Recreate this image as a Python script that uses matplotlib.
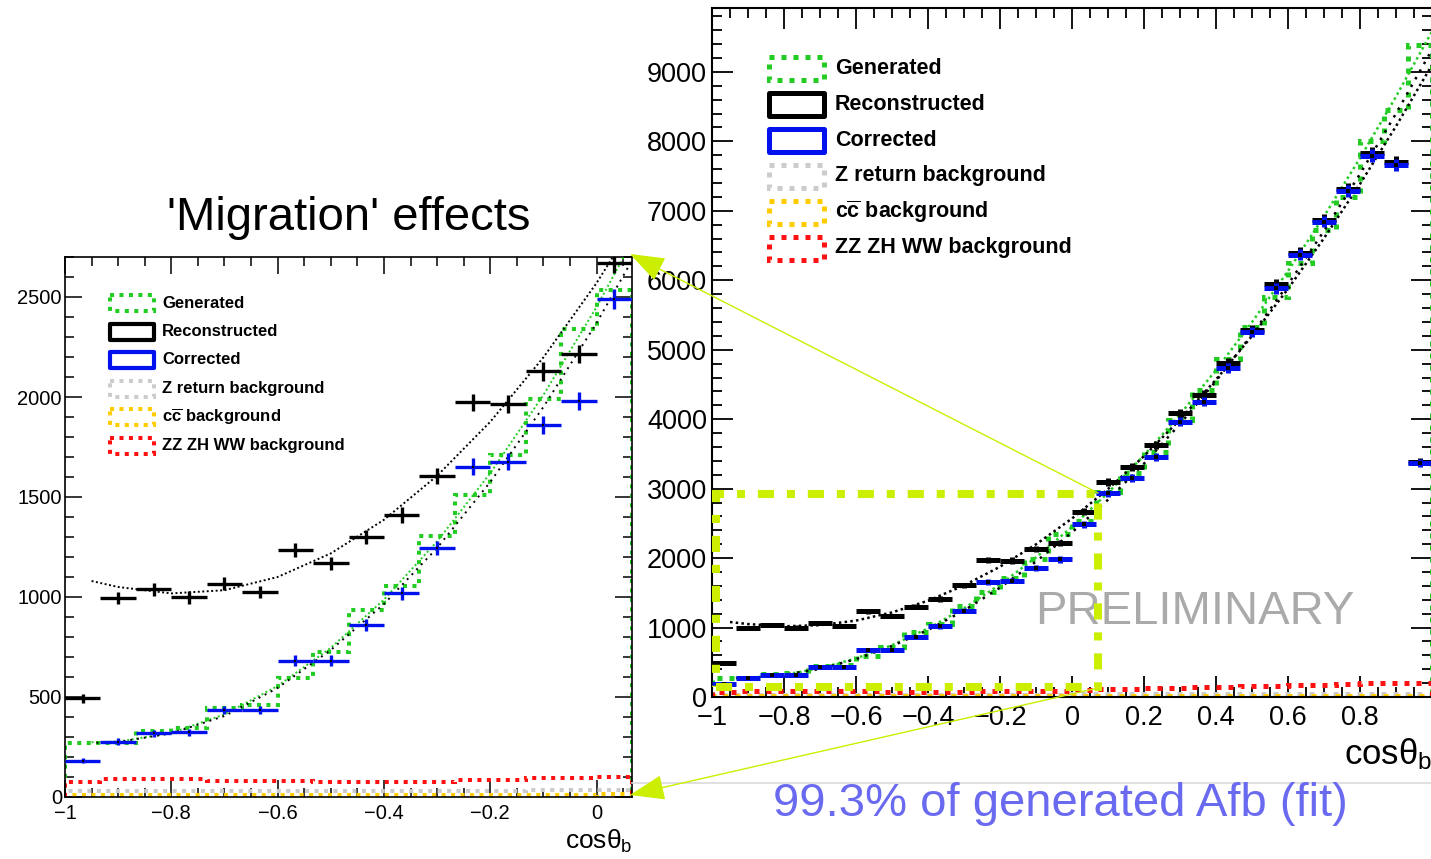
import numpy as np
import matplotlib
matplotlib.use("Agg")
import matplotlib.pyplot as plt
from matplotlib.patches import Rectangle
from matplotlib.ticker import FixedLocator, FixedFormatter, MultipleLocator

plt.rcParams['font.family'] = ['Liberation Sans', 'DejaVu Sans']
plt.rcParams['mathtext.fontset'] = 'custom'
plt.rcParams['mathtext.rm'] = 'Liberation Sans'
plt.rcParams['mathtext.bf'] = 'Liberation Sans:bold'
plt.rcParams['mathtext.it'] = 'Liberation Sans:italic'

W, H = 1431, 859

# ---- data: 30 bins of cos(theta_b) in [-1, 1] ----
n_bins = 30
generated = [272, 270, 330, 345, 445, 460, 595, 725, 935, 1055, 1305, 1510, 1710, 1990, 2340,
             2535, 2950, 3230, 3530, 3990, 4420, 4870, 5330, 5760, 6250, 6730, 7200, 8000, 8450, 9390]
reconstructed = [493, 995, 1038, 998, 1066, 1025, 1235, 1168, 1300, 1410, 1606, 1973, 1965, 2128, 2215,
                 2670, 3100, 3307, 3629, 4085, 4349, 4805, 5285, 5940, 6394, 6869, 7311, 7829, 7700, 3389]
corrected = [182, 277, 318, 323, 435, 435, 682, 682, 860, 1018, 1243, 1652, 1677, 1860, 1980,
             2490, 2933, 3149, 3461, 3965, 4253, 4733, 5252, 5885, 6365, 6845, 7291, 7795, 7661, 3364]
zreturn_bkg = [28, 30, 30, 28, 30, 28, 30, 30, 28, 30, 30, 32, 32, 34, 34,
               36, 38, 40, 40, 42, 42, 44, 44, 46, 46, 48, 48, 50, 50, 48]
cc_bkg = [8, 9, 9, 10, 10, 10, 10, 11, 11, 11, 11, 12, 12, 12, 12,
          13, 13, 13, 14, 14, 14, 14, 15, 15, 15, 15, 16, 16, 16, 15]
zzzhww_bkg = [73, 88, 88, 88, 82, 82, 82, 77, 73, 73, 75, 85, 85, 93, 93,
              102, 118, 122, 128, 132, 140, 148, 155, 160, 168, 178, 188, 196, 205, 195]

# fitted forward-backward shapes, sampled along cos(theta_b)
fit_x = [-0.95, -0.9, -0.8, -0.7, -0.6, -0.5, -0.4, -0.3, -0.2, -0.1, 0.0,
         0.1, 0.2, 0.3, 0.4, 0.5, 0.6, 0.7, 0.8, 0.9, 1.0]
reco_fit = [1080, 1050, 1018, 1034, 1100, 1218, 1386, 1606, 1876, 2198, 2570,
            2994, 3468, 3994, 4570, 5198, 5876, 6606, 7386, 8218, 9100]
gen_fit = [274, 277, 320, 413, 555, 746, 987, 1278, 1619, 2010, 2450,
           2940, 3479, 4068, 4707, 5396, 6133, 6921, 7758, 8645, 9582]
corr_fit = [270, 275, 318, 405, 545, 735, 965, 1245, 1575, 1950, 2370,
            2840, 3360, 3930, 4550, 5220, 5940, 6710, 7530, 8400, 9320]

legend_labels = ['Generated', 'Reconstructed', 'Corrected', 'Z return background',
                 r'c$\overline{\mathbf{c}}$ background', 'ZZ ZH WW background']

left_xticks = [-1.0, -0.8, -0.6, -0.4, -0.2, 0.0]
left_xticklabels = ['\u22121', '\u22120.8', '\u22120.6', '\u22120.4', '\u22120.2', '0']
left_yticks = [0, 500, 1000, 1500, 2000, 2500]
right_xticks = [-1.0, -0.8, -0.6, -0.4, -0.2, 0.0, 0.2, 0.4, 0.6, 0.8, 1.0]
right_xticklabels = ['\u22121', '\u22120.8', '\u22120.6', '\u22120.4', '\u22120.2', '0',
                     '0.2', '0.4', '0.6', '0.8', '']
right_yticks = [0, 1000, 2000, 3000, 4000, 5000, 6000, 7000, 8000, 9000]

GREEN = '#22cc22'
BLUE = '#0011ee'
RED = '#ff1111'
ORANGE = '#ffcc00'
GRAY = '#cccccc'
LIME = '#ccee00'

bin_edges = np.linspace(-1.0, 1.0, n_bins + 1)

fig = plt.figure(figsize=(W / 100, H / 100), dpi=100)
fig.patch.set_facecolor('white')


def px_axes(x0, y0, x1, y1):
    """Axes rectangle given by pixel corners (top-left origin)."""
    return fig.add_axes([x0 / W, 1 - y1 / H, (x1 - x0) / W, (y1 - y0) / H])


def draw_panel(ax, nb, lw_hist, dot, lw_err, lw_fit, ms):
    edges = bin_edges[:nb + 1]
    centers = 0.5 * (edges[:-1] + edges[1:])
    half = 0.5 * (edges[1] - edges[0])
    dotted = (0, dot)
    ax.stairs(generated[:nb], edges, baseline=0, color=GREEN, lw=lw_hist, linestyle=dotted, zorder=2)
    ax.stairs(zreturn_bkg[:nb], edges, baseline=0, color=GRAY, lw=lw_hist, linestyle=dotted, zorder=2)
    ax.stairs(cc_bkg[:nb], edges, baseline=0, color=ORANGE, lw=lw_hist, linestyle=dotted, zorder=2.1)
    ax.stairs(zzzhww_bkg[:nb], edges, baseline=0, color=RED, lw=lw_hist, linestyle=dotted, zorder=2.2)
    fit_style = (0, (1.0, 1.3))
    ax.plot(fit_x, gen_fit, color=GREEN, lw=lw_fit, linestyle=fit_style, zorder=3)
    ax.plot(fit_x, corr_fit, color='black', lw=lw_fit, linestyle=(1, (1.0, 2.5)), zorder=3)
    ax.plot(fit_x, reco_fit, color='black', lw=lw_fit, linestyle=fit_style, zorder=3)
    reco = np.array(reconstructed[:nb], dtype=float)
    corr = np.array(corrected[:nb], dtype=float)
    ax.errorbar(centers, reco, xerr=half, yerr=np.sqrt(reco), fmt='none', ecolor='black',
                elinewidth=lw_err, capsize=0, zorder=4)
    ax.errorbar(centers, corr, xerr=half, yerr=np.sqrt(corr), fmt='none', ecolor=BLUE,
                elinewidth=lw_err, capsize=0, zorder=5)
    ax.plot(centers, reco, 's', ms=ms, color='black', zorder=4.5, mew=0)
    ax.plot(centers, corr, 's', ms=ms, color='black', zorder=5.5, mew=0)


def style_axes(ax, lw, major, minor, width, labelsize, xpad, ypad):
    for sp in ax.spines.values():
        sp.set_linewidth(lw)
    ax.tick_params(which='both', direction='in', top=True, right=True, width=width,
                   labelsize=labelsize, colors='black')
    ax.tick_params(which='major', length=major)
    ax.tick_params(which='minor', length=minor)
    ax.tick_params(axis='x', pad=xpad)
    ax.tick_params(axis='y', pad=ypad)


AXIS_TITLE = 'cos\u03b8$_\\mathrm{b}$'

# ---- left panel: zoom on the backward region ----
ax_l = px_axes(65, 257, 632, 797)
draw_panel(ax_l, 16, lw_hist=2.9, dot=(1.0, 1.35), lw_err=2.4, lw_fit=1.4, ms=2.0)
ax_l.set_xlim(-1.0, bin_edges[16])
ax_l.set_ylim(0, 2700)
ax_l.xaxis.set_major_locator(FixedLocator(left_xticks))
ax_l.xaxis.set_major_formatter(FixedFormatter(left_xticklabels))
ax_l.xaxis.set_minor_locator(MultipleLocator(0.05))
ax_l.yaxis.set_major_locator(FixedLocator(left_yticks))
ax_l.yaxis.set_minor_locator(MultipleLocator(100))
style_axes(ax_l, 1.2, 12, 6.5, 1.1, 14.5, 5, 2.2)
ax_l.text(1.0, -0.083, AXIS_TITLE, transform=ax_l.transAxes, ha='right',
          va='center', fontsize=19)

# ---- right panel: full range ----
ax_r = px_axes(712, 8, 1432, 697)
draw_panel(ax_r, 30, lw_hist=3.6, dot=(1.0, 1.4), lw_err=3.6, lw_fit=1.8, ms=2.5)
ax_r.set_xlim(-1.0, 1.0)
ax_r.set_ylim(0, 9920)
ax_r.xaxis.set_major_locator(FixedLocator(right_xticks))
ax_r.xaxis.set_major_formatter(FixedFormatter(right_xticklabels))
ax_r.xaxis.set_minor_locator(MultipleLocator(0.05))
ax_r.yaxis.set_major_locator(FixedLocator(right_yticks))
ax_r.yaxis.set_minor_locator(MultipleLocator(200))
style_axes(ax_r, 1.5, 15, 7, 1.3, 19.5, 6, 3.6)
ax_r.text(1.0, -0.083, AXIS_TITLE, transform=ax_r.transAxes, ha='right',
          va='center', fontsize=25)

# zoom window marker
ax_r.add_patch(Rectangle((-0.99, 148), 1.062, 2918 - 148, fill=False, edgecolor=LIME, lw=5.8,
                         linestyle=(0, (2.0, 1.6, 1.0, 1.6)), zorder=6, clip_on=False))
ax_r.text(1195 / W, 1 - 612 / H, 'PRELIMINARY', transform=fig.transFigure, ha='center',
          va='center', fontsize=34, color='#aaaaaa', zorder=1)

# ---- overlay in pixel coordinates ----
ov = fig.add_axes([0, 0, 1, 1], zorder=10)
ov.set_xlim(0, W)
ov.set_ylim(H, 0)
ov.axis('off')
ov.patch.set_alpha(0)

ov.text(349, 218, "'Migration' effects", ha='center', va='center', fontsize=34)
ov.text(1060, 804, '99.3% of generated Afb (fit)', ha='center', va='center', fontsize=34,
        color='#6a6af0')
ov.plot([632, W], [783, 783], color='#dadada', lw=1.2)

arrow_kw = dict(arrowstyle='-|>,head_length=2.2,head_width=0.8', color=LIME, lw=1.0,
                shrinkA=0, shrinkB=0)
ov.annotate('', xy=(630, 254), xytext=(1098, 493), arrowprops=arrow_kw)
ov.annotate('', xy=(630, 795), xytext=(1098, 688), arrowprops=arrow_kw)

# legends (ROOT-style boxes)
legend_styles = [
    (GREEN, 'dot'), ('black', 'solid'), (BLUE, 'solid'),
    (GRAY, 'dot'), (ORANGE, 'dot'), (RED, 'dot'),
]


def draw_legend(x0, y0, dy, bw, bh, tx, fs, lw_dot, lw_solid, dot):
    for i, (lab, (col, kind)) in enumerate(zip(legend_labels, legend_styles)):
        yc = y0 + i * dy
        if kind == 'dot':
            ov.add_patch(Rectangle((x0, yc - bh / 2), bw, bh, fill=False, edgecolor=col,
                                   lw=lw_dot, linestyle=(0, dot)))
        else:
            ov.add_patch(Rectangle((x0, yc - bh / 2), bw, bh, fill=False, edgecolor=col,
                                   lw=lw_solid, joinstyle='round'))
        ov.text(tx, yc, lab, ha='left', va='center', fontsize=fs, fontweight='bold')


draw_legend(110, 303, 28.5, 44, 16, 162, 12, 2.9, 3.0, (1.0, 1.35))
draw_legend(769, 68, 36, 55, 23, 835, 15.5, 3.6, 3.6, (1.0, 1.4))

fig.savefig('out.png', dpi=100, facecolor='white')
